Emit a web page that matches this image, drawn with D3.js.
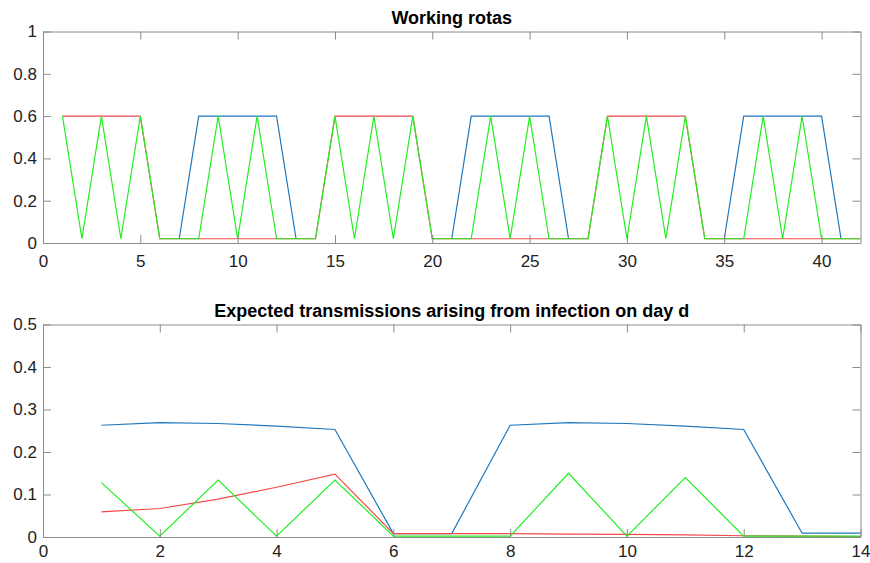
<!DOCTYPE html>
<html>
<head>
<meta charset="utf-8">
<script src="https://cdn.jsdelivr.net/npm/d3@7"></script>
<style>
  html, body { margin: 0; padding: 0; background: #fff; }
  svg { display: block; font-family: "Liberation Sans", Arial, Helvetica, sans-serif; }
</style>
</head>
<body>
<svg id="chart" width="870" height="563"></svg>
<script>
// ---------- DATA ----------
const N = null;
const rotaDays = [1,2,3,4,5,6,7,8,9,10,11,12,13,14,15,16,17,18,19,20,21,22,23,24,25,26,27,28,29,30,31,32,33,34,35,36,37,38,39,40,41,42];
const rotaBlue = [N,N,N,N,N,N,0.02,0.6,0.6,0.6,0.6,0.6,0.02,N,N,N,N,N,N,N,0.02,0.6,0.6,0.6,0.6,0.6,0.02,N,N,N,N,N,N,N,0.02,0.6,0.6,0.6,0.6,0.6,0.02,N];
const rotaRed = [0.6,0.6,0.6,0.6,0.6,0.02,0.02,0.02,0.02,0.02,0.02,0.02,0.02,0.02,0.6,0.6,0.6,0.6,0.6,0.02,0.02,0.02,0.02,0.02,0.02,0.02,0.02,0.02,0.6,0.6,0.6,0.6,0.6,0.02,0.02,0.02,0.02,0.02,0.02,0.02,0.02,0.02];
const rotaGreen = [0.6,0.02,0.6,0.02,0.6,0.02,0.02,0.02,0.6,0.02,0.6,0.02,0.02,0.02,0.6,0.02,0.6,0.02,0.6,0.02,0.02,0.02,0.6,0.02,0.6,0.02,0.02,0.02,0.6,0.02,0.6,0.02,0.6,0.02,0.02,0.02,0.6,0.02,0.6,0.02,0.02,0.02];
const rotaXTicks = [0,5,10,15,20,25,30,35,40];
const rotaYTicks = [0,0.2,0.4,0.6,0.8,1];

const transDays = [1,2,3,4,5,6,7,8,9,10,11,12,13,14];
const transBlue = [0.263,0.269,0.267,0.261,0.253,0.008,0.008,0.263,0.269,0.267,0.261,0.253,0.009,0.009];
const transRed = [0.059,0.067,0.089,0.117,0.148,0.008,0.008,0.008,0.007,0.006,0.005,0.003,0.002,0.001];
const transGreen = [0.128,0.002,0.134,0.002,0.134,0.002,0.002,0.002,0.150,0.002,0.140,0.002,0.002,0.002];
const transXTicks = [0,2,4,6,8,10,12,14];
const transYTicks = [0,0.1,0.2,0.3,0.4,0.5];

const titles = ["Working rotas", "Expected transmissions arising from infection on day d"];

// ---------- STYLE ----------
const colBlue = "#1f77bd";
const colRed = "#f24a4a";
const colGreen = "#22ee22";
const axisCol = "#8c8c8c";
const textCol = "#222";

const svg = d3.select("#chart");
const fmt = d3.format("~g");

function panel(cfg) {
  const x = d3.scaleLinear().domain(cfg.xDomain).range([43, 860.5]);
  const y = d3.scaleLinear().domain(cfg.yDomain).range([cfg.bottom, cfg.top]);
  const g = svg.append("g");

  const series = [
    {vals: cfg.blue, col: colBlue},
    {vals: cfg.red, col: colRed},
    {vals: cfg.green, col: colGreen}
  ];
  const line = d3.line()
    .defined(d => d[1] !== null)
    .x(d => x(d[0]))
    .y(d => y(d[1]));
  series.forEach(s => {
    g.append("path")
      .datum(cfg.days.map((d, i) => [d, s.vals[i]]))
      .attr("fill", "none")
      .attr("stroke", s.col)
      .attr("stroke-width", 1.2)
      .attr("stroke-linejoin", "miter")
      .attr("d", line);
  });

  const tk = 8;
  const styleAxis = sel => {
    sel.select(".domain").attr("stroke", axisCol);
    sel.selectAll(".tick line").attr("stroke", axisCol);
    sel.selectAll(".tick text").attr("fill", textCol).style("font-size", "17px");
    sel.attr("font-family", null);
  };
  g.append("g").attr("transform", `translate(0,${cfg.bottom})`)
    .call(d3.axisBottom(x).tickValues(cfg.xTicks).tickFormat(fmt).tickSizeInner(-tk).tickSizeOuter(0).tickPadding(cfg.xPad))
    .call(styleAxis);
  g.append("g").attr("transform", `translate(0,${cfg.top})`)
    .call(d3.axisTop(x).tickValues(cfg.xTicks).tickFormat("").tickSizeInner(-tk).tickSizeOuter(0))
    .call(styleAxis);
  g.append("g").attr("transform", `translate(43,0)`)
    .call(d3.axisLeft(y).tickValues(cfg.yTicks).tickFormat(fmt).tickSizeInner(-tk).tickSizeOuter(0).tickPadding(6))
    .call(styleAxis);
  g.append("g").attr("transform", `translate(860.5,0)`)
    .call(d3.axisRight(y).tickValues(cfg.yTicks).tickFormat("").tickSizeInner(-tk).tickSizeOuter(0))
    .call(styleAxis);

  g.append("text")
    .attr("x", (43 + 860.5) / 2)
    .attr("y", cfg.top - 8)
    .attr("text-anchor", "middle")
    .attr("fill", "#000")
    .style("font-size", "18px")
    .style("font-weight", "bold")
    .text(cfg.title);
}

panel({
  days: rotaDays, blue: rotaBlue, red: rotaRed, green: rotaGreen,
  xDomain: [0, 42], yDomain: [0, 1], xTicks: rotaXTicks, yTicks: rotaYTicks,
  top: 31.5, bottom: 243, xPad: 12, title: titles[0]
});
panel({
  days: transDays, blue: transBlue, red: transRed, green: transGreen,
  xDomain: [0, 14], yDomain: [0, 0.5], xTicks: transXTicks, yTicks: transYTicks,
  top: 324.5, bottom: 537, xPad: 8, title: titles[1]
});
</script>
</body>
</html>
